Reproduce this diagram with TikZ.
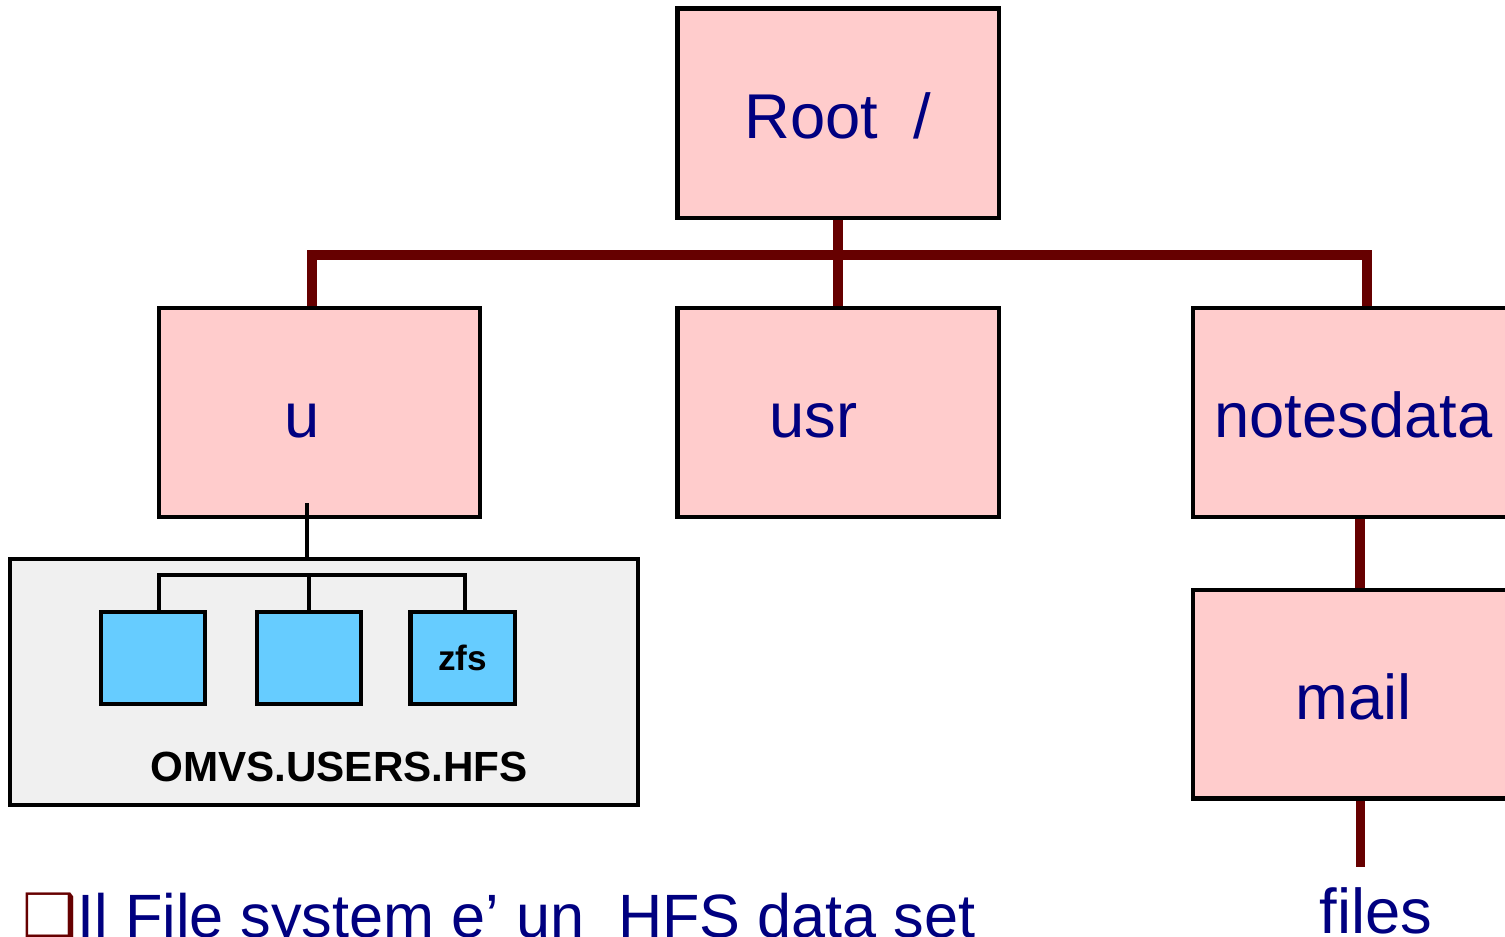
\documentclass[tikz,border=0pt]{standalone}
\usepackage{fontspec}
\setmainfont{Liberation Sans}
\newfontfamily\dejavu{DejaVu Sans}
\usetikzlibrary{positioning}
\definecolor{boxpink}{RGB}{255,204,204}
\definecolor{dirblue}{RGB}{102,204,255}
\definecolor{linkred}{RGB}{102,0,0}
\definecolor{textnavy}{RGB}{0,0,128}
\definecolor{hfsgray}{RGB}{240,240,240}

\begin{document}
\begin{tikzpicture}[
    x=0.01cm, y=-0.01cm,
    dir/.style={rectangle, draw, line width=1.2pt, fill=boxpink, minimum width=3.21cm, minimum height=2.09cm, text=textnavy, font=\fontsize{18}{22}\selectfont, text height=14.5pt, text depth=0pt, inner sep=0pt},
    sub/.style={rectangle, draw, line width=1.2pt, fill=dirblue, minimum width=1.04cm, minimum height=0.92cm, font=\bfseries\fontsize{10}{12}\selectfont},
    dataset/.style={rectangle, draw, line width=1.2pt, fill=hfsgray, minimum width=6.28cm, minimum height=2.46cm},
    branch/.style={draw=linkred, line width=2.8pt},
    link/.style={draw, line width=1.1pt}
]
\useasboundingbox (0,0) rectangle (1505,937);

% Directory tree
\node[dir] (u) at (319.5,412.5) {u\kern0.35cm};
\node[dir, right=1.93cm of u] (usr) {usr\kern0.49cm};
\node[dir, right=1.90cm of usr] (notesdata) {notesdata};
\node[dir, above=0.86cm of usr] (root) {Root~ /};
\node[dir, below=0.69cm of notesdata, minimum height=2.08cm] (mail) {mail};
\node[text=textnavy, font=\fontsize{18}{22}\selectfont, anchor=base, inner sep=0.2cm] (files) at (1376,934) {files};

% Mounted data set
\node[dataset] (hfs) at (324,682) {};
\node[font=\bfseries\fontsize{12}{14}\selectfont] (hfslabel) at (339,767) {OMVS.USERS.HFS};
\node[sub] (d1) at (153,658) {};
\node[sub, right=0.48cm of d1] (d2) {};
\node[sub, right=0.45cm of d2] (zfs) {zfs};

% Connectors
\coordinate (bar) at (839,255);
\coordinate (fork) at (308,575);
\coordinate (ulink) at ([shift={(-0.125cm,0.16cm)}]u.south);
\draw[branch] (root.south) -- (usr.north);
\draw[branch] ([xshift=-0.075cm]u.north) |- (bar) -| ([xshift=0.135cm]notesdata.north);
\draw[branch] ([xshift=0.065cm]notesdata.south) -- ([xshift=0.065cm]notesdata.south |- mail.north);
\draw[branch] ([xshift=0.07cm]mail.south) -- ([xshift=0.07cm]mail.south |- files.north);
\draw[link] (ulink) -- (ulink |- hfs.north);
\draw[link] ([xshift=0.06cm]d1.north) |- (fork) -| ([xshift=0.02cm]zfs.north);
\draw[link] (d2.north) -- (d2.north |- fork);

% Note
\node[anchor=base west, inner sep=0pt, text=textnavy, font=\fontsize{17.4}{21}\selectfont] (note) at (22,938) {{\dejavu\color{linkred}❑}Il File system e’ un~ HFS data set};

\end{tikzpicture}
\end{document}
